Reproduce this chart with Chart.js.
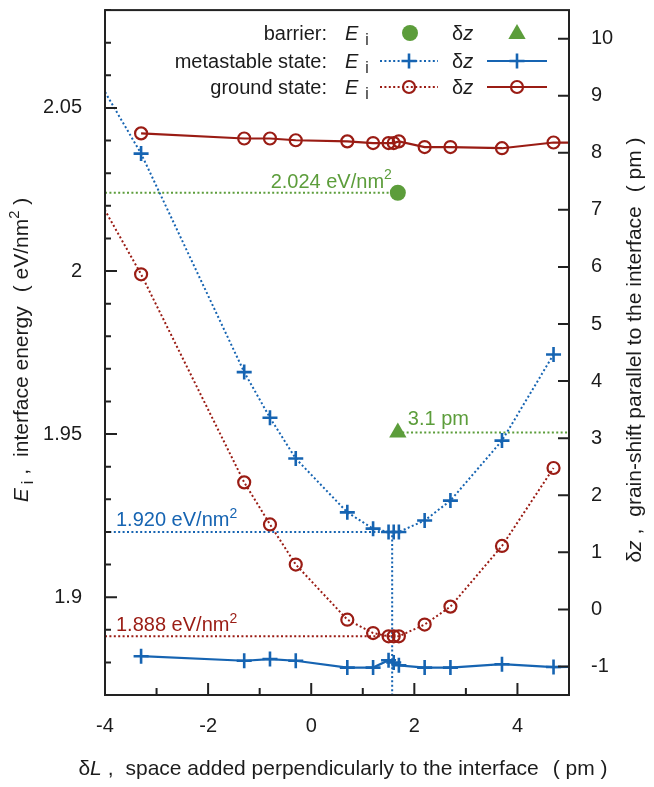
<!DOCTYPE html>
<html><head><meta charset="utf-8">
<script src="https://cdn.jsdelivr.net/npm/chart.js@4.4.0/dist/chart.umd.min.js"></script>
<style>html,body{margin:0;padding:0;background:#fff}canvas{display:block}</style>
</head><body>
<canvas id="c" width="654" height="787" style="width:654px;height:787px"></canvas>
<script>
// ---------- data ----------
const eiDeltaL  = [-4.3, -3.3, -1.3, -0.8, -0.3, 0.7, 1.2, 1.5, 1.6, 1.7, 2.2, 2.7, 3.7, 4.7];
const metaEi    = [2.063, 2.036, 1.969, 1.955, 1.9425, 1.926, 1.921, 1.920, 1.920, 1.920, 1.9235, 1.9296, 1.948, 1.9744];
const groundEi  = [2.027, 1.999, 1.9352, 1.9223, 1.910, 1.8931, 1.889, 1.888, 1.888, 1.888, 1.8916, 1.8971, 1.9157, 1.9396];
const dzDeltaL  = [-3.3, -1.3, -0.8, -0.3, 0.7, 1.2, 1.5, 1.6, 1.7, 2.2, 2.7, 3.7, 4.7, 5.7];
const metaDz    = [-0.82, -0.90, -0.87, -0.90, -1.02, -1.02, -0.89, -0.93, -0.98, -1.02, -1.02, -0.96, -1.01, -1.0];
const groundDz  = [8.34, 8.25, 8.25, 8.22, 8.20, 8.17, 8.17, 8.17, 8.20, 8.10, 8.10, 8.08, 8.18, 8.17];
const barrierL  = [1.68];
const barrierEi = [2.024];
const barrierDz = [3.1];
const minL      = [1.57];          // position of the energy minimum (vertical guide)
const metaMinEi = [1.920];
const groundMinEi = [1.888];

const xTickLabels  = [-4, -2, 0, 2, 4];
const yTickLabels  = [1.9, 1.95, 2, 2.05];
const y2TickLabels = [-1, 0, 1, 2, 3, 4, 5, 6, 7, 8, 9, 10];

// ---------- style ----------
const BLUE = '#1664b2', RED = '#9a1c14', GREEN = '#5c9d3b', INK = '#1c1c1c';
const FONT = '"Liberation Sans", Arial, Helvetica, sans-serif';
const DOT = [2, 2.4];

const pts = (xs, ys) => xs.map((x, i) => ({x, y: ys[i]}));
const inRange = xs => xs.map(x => (x >= -4 && x <= 5) ? 1 : 0);

function rich(ctx, parts, x, y, align, size, color) {
  ctx.save();
  ctx.fillStyle = color;
  ctx.textBaseline = 'alphabetic';
  ctx.textAlign = 'left';
  const items = parts.map(p => {
    let fs = size, dy = 0;
    if (p.sub) { fs = size * 0.78; dy = size * 0.25; }
    if (p.sup) { fs = size * 0.7; dy = -size * 0.42; }
    const font = (p.it ? 'italic ' : '') + fs + 'px ' + FONT;
    ctx.font = font;
    const w = ctx.measureText(p.t).width + (p.gap || 0);
    return {t: p.t, font, dy, w, pre: p.pre || 0};
  });
  const total = items.reduce((s, it) => s + it.w + it.pre, 0);
  let cx = align === 'right' ? x - total : align === 'center' ? x - total / 2 : x;
  for (const it of items) {
    cx += it.pre;
    ctx.font = it.font;
    ctx.fillText(it.t, cx, y + it.dy);
    cx += it.w;
  }
  ctx.restore();
}

function marker(ctx, style, x, y, color) {
  ctx.save();
  ctx.strokeStyle = color; ctx.fillStyle = color;
  if (style === 'cross') {
    ctx.lineWidth = 2.6;
    ctx.beginPath(); ctx.moveTo(x - 7.5, y); ctx.lineTo(x + 7.5, y);
    ctx.moveTo(x, y - 7.5); ctx.lineTo(x, y + 7.5); ctx.stroke();
  } else if (style === 'circle') {
    ctx.lineWidth = 2.2;
    ctx.beginPath(); ctx.arc(x, y, 6, 0, Math.PI * 2); ctx.stroke();
  } else if (style === 'dot') {
    ctx.beginPath(); ctx.arc(x, y, 8, 0, Math.PI * 2); ctx.fill();
  } else if (style === 'tri') {
    const r = 10;
    ctx.beginPath();
    ctx.moveTo(x, y - r);
    ctx.lineTo(x + r * Math.sin(2 * Math.PI / 3), y - r * Math.cos(2 * Math.PI / 3));
    ctx.lineTo(x + r * Math.sin(4 * Math.PI / 3), y - r * Math.cos(4 * Math.PI / 3));
    ctx.closePath(); ctx.fill();
  }
  ctx.restore();
}

function seg(ctx, x1, x2, y, color, dash) {
  ctx.save();
  ctx.strokeStyle = color; ctx.lineWidth = 2;
  ctx.setLineDash(dash || []);
  ctx.beginPath(); ctx.moveTo(x1, y); ctx.lineTo(x2, y); ctx.stroke();
  ctx.restore();
}

const framePlugin = {
  id: 'frame',
  afterDatasetsDraw(chart) {
    const {ctx, chartArea: a, scales: {x, y, y1}} = chart;
    ctx.save();
    ctx.strokeStyle = '#222'; ctx.lineWidth = 2;
    ctx.beginPath();
    for (let k = 187; k <= 208; k++) {
      const py = y.getPixelForValue(k / 100);
      const len = (k % 5 === 0) ? 12 : 6;
      ctx.moveTo(a.left, py); ctx.lineTo(a.left + len, py);
    }
    for (const v of y2TickLabels) {
      const py = y1.getPixelForValue(v);
      ctx.moveTo(a.right, py); ctx.lineTo(a.right - 11, py);
    }
    for (let v = -3; v <= 4; v++) {
      const px = x.getPixelForValue(v);
      const len = (v % 2 === 0) ? 12 : 7;
      ctx.moveTo(px, a.bottom); ctx.lineTo(px, a.bottom - len);
    }
    ctx.stroke();
    ctx.strokeRect(a.left, a.top, a.right - a.left, a.bottom - a.top);
    ctx.restore();

    const F = 20;
    const sup2 = {t: '2', sup: 1};
    rich(ctx, [{t: barrierEi[0].toFixed(3) + ' eV/nm'}, sup2], x.getPixelForValue(barrierL[0]) - 6, y.getPixelForValue(barrierEi[0]) - 5, 'right', F, GREEN);
    rich(ctx, [{t: metaMinEi[0].toFixed(3) + ' eV/nm'}, sup2], a.left + 11, y.getPixelForValue(metaMinEi[0]) - 6, 'left', F, BLUE);
    rich(ctx, [{t: groundMinEi[0].toFixed(3) + ' eV/nm'}, sup2], a.left + 11, y.getPixelForValue(groundMinEi[0]) - 5, 'left', F, RED);
    rich(ctx, [{t: barrierDz[0].toFixed(1) + ' pm'}], x.getPixelForValue(barrierL[0]) + 10, y1.getPixelForValue(barrierDz[0]) - 7, 'left', F, GREEN);

    const rows = [33, 61, 87];
    const labels = ['barrier:', 'metastable state:', 'ground state:'];
    rows.forEach((ry, i) => {
      rich(ctx, [{t: labels[i]}], 327, ry + 7, 'right', F, INK);
      rich(ctx, [{t: 'E', it: 1, gap: 7}, {t: 'i', sub: 1}], 345, ry + 7, 'left', F, INK);
      rich(ctx, [{t: 'δ'}, {t: 'z', it: 1}], 452, ry + 7, 'left', F, INK);
    });
    marker(ctx, 'dot', 410, rows[0], GREEN);
    marker(ctx, 'tri', 517, rows[0] + 1, GREEN);
    seg(ctx, 380, 438, rows[1], BLUE, DOT); marker(ctx, 'cross', 409, rows[1], BLUE);
    seg(ctx, 487, 547, rows[1], BLUE); marker(ctx, 'cross', 517, rows[1], BLUE);
    seg(ctx, 380, 438, rows[2], RED, DOT); marker(ctx, 'circle', 409, rows[2], RED);
    seg(ctx, 487, 547, rows[2], RED); marker(ctx, 'circle', 517, rows[2], RED);

    const T = 21;
    rich(ctx, [{t: 'δ'}, {t: 'L', it: 1}, {t: ' ,', gap: 12}, {t: 'space added perpendicularly to the interface'}, {t: '(', pre: 14}, {t: ' pm )'}], 343, 775, 'center', T, INK);
    ctx.save();
    ctx.translate(28, 350); ctx.rotate(-Math.PI / 2);
    rich(ctx, [{t: 'E', it: 1, gap: 4}, {t: 'i', sub: 1}, {t: ' ,', gap: 12}, {t: 'interface energy'}, {t: '(', pre: 14}, {t: ' eV/nm'}, sup2, {t: ' )'}], 0, 0, 'center', T, INK);
    ctx.restore();
    ctx.save();
    ctx.translate(641, 350); ctx.rotate(-Math.PI / 2);
    rich(ctx, [{t: 'δ'}, {t: 'z', it: 1}, {t: ' ,', gap: 12}, {t: 'grain-shift parallel to the interface'}, {t: '(', pre: 14}, {t: ' pm )'}], 0, 0, 'center', T, INK);
    ctx.restore();
  }
};

const noPad = s => { s.paddingTop = 0; s.paddingBottom = 0; s.paddingLeft = 0; s.paddingRight = 0; };
const tickFont = {family: FONT, size: 20};
new Chart(document.getElementById('c'), {
  type: 'scatter',
  data: {
    datasets: [
      {data: pts(barrierL, barrierEi), yAxisID: 'y', pointStyle: 'circle', pointRadius: 8, pointBackgroundColor: GREEN, pointBorderColor: GREEN, pointBorderWidth: 0},
      {data: pts(barrierL, barrierDz), yAxisID: 'y1', pointStyle: 'triangle', pointRadius: 10, pointBackgroundColor: GREEN, pointBorderColor: GREEN, pointBorderWidth: 0},
      {data: pts(eiDeltaL, groundEi), yAxisID: 'y', showLine: true, borderColor: RED, borderWidth: 2, borderDash: DOT,
       pointStyle: 'circle', pointRadius: inRange(eiDeltaL).map(v => v * 6), pointBorderWidth: 2.2, pointBorderColor: RED, pointBackgroundColor: 'rgba(0,0,0,0)'},
      {data: pts(eiDeltaL, metaEi), yAxisID: 'y', showLine: true, borderColor: BLUE, borderWidth: 2, borderDash: DOT,
       pointStyle: 'cross', pointRadius: inRange(eiDeltaL).map(v => v * 7.5), pointBorderWidth: 2.6, pointBorderColor: BLUE},
      {data: pts(dzDeltaL, groundDz), yAxisID: 'y1', showLine: true, borderColor: RED, borderWidth: 2.2,
       pointStyle: 'circle', pointRadius: inRange(dzDeltaL).map(v => v * 6), pointBorderWidth: 2.2, pointBorderColor: RED, pointBackgroundColor: 'rgba(0,0,0,0)'},
      {data: pts(dzDeltaL, metaDz), yAxisID: 'y1', showLine: true, borderColor: BLUE, borderWidth: 2.2,
       pointStyle: 'cross', pointRadius: inRange(dzDeltaL).map(v => v * 7.5), pointBorderWidth: 2.6, pointBorderColor: BLUE},
      {data: [{x: -4, y: barrierEi[0]}, {x: barrierL[0], y: barrierEi[0]}], yAxisID: 'y', showLine: true, borderColor: GREEN, borderWidth: 2, borderDash: DOT, pointRadius: 0},
      {data: [{x: barrierL[0], y: barrierDz[0]}, {x: 5, y: barrierDz[0]}], yAxisID: 'y1', showLine: true, borderColor: GREEN, borderWidth: 2, borderDash: DOT, pointRadius: 0},
      {data: [{x: -4, y: metaMinEi[0]}, {x: minL[0], y: metaMinEi[0]}, {x: minL[0], y: 1.87}], yAxisID: 'y', showLine: true, borderColor: BLUE, borderWidth: 2, borderDash: DOT, pointRadius: 0},
      {data: [{x: -4, y: groundMinEi[0]}, {x: minL[0], y: groundMinEi[0]}], yAxisID: 'y', showLine: true, borderColor: RED, borderWidth: 2, borderDash: DOT, pointRadius: 0}
    ]
  },
  options: {
    responsive: false, animation: false, devicePixelRatio: 1,
    layout: {padding: {top: 6, left: 0, right: 0, bottom: 0}},
    plugins: {legend: {display: false}, tooltip: {enabled: false}},
    events: [],
    scales: {
      x: {type: 'linear', position: 'bottom', min: -4, max: 5,
          grid: {display: false}, border: {display: false},
          afterBuildTicks: s => { s.ticks = xTickLabels.map(v => ({value: v})); },
          afterFit: s => { s.height = 92; noPad(s); },
          ticks: {font: tickFont, color: INK, padding: 11, maxRotation: 0, callback: v => String(v)}},
      y: {type: 'linear', position: 'left', min: 1.87, max: 2.08,
          grid: {display: false}, border: {display: false},
          afterBuildTicks: s => { s.ticks = yTickLabels.map(v => ({value: v})); },
          afterFit: s => { s.width = 105; noPad(s); },
          ticks: {font: tickFont, color: INK, padding: 15, callback: v => String(v)}},
      y1: {type: 'linear', position: 'right', min: -1.5, max: 10.5,
          grid: {display: false}, border: {display: false},
          afterBuildTicks: s => { s.ticks = y2TickLabels.map(v => ({value: v})); },
          afterFit: s => { s.width = 85; noPad(s); },
          ticks: {font: tickFont, color: INK, padding: 14, callback: v => String(v)}}
    }
  },
  plugins: [framePlugin]
});
</script>
</body></html>
